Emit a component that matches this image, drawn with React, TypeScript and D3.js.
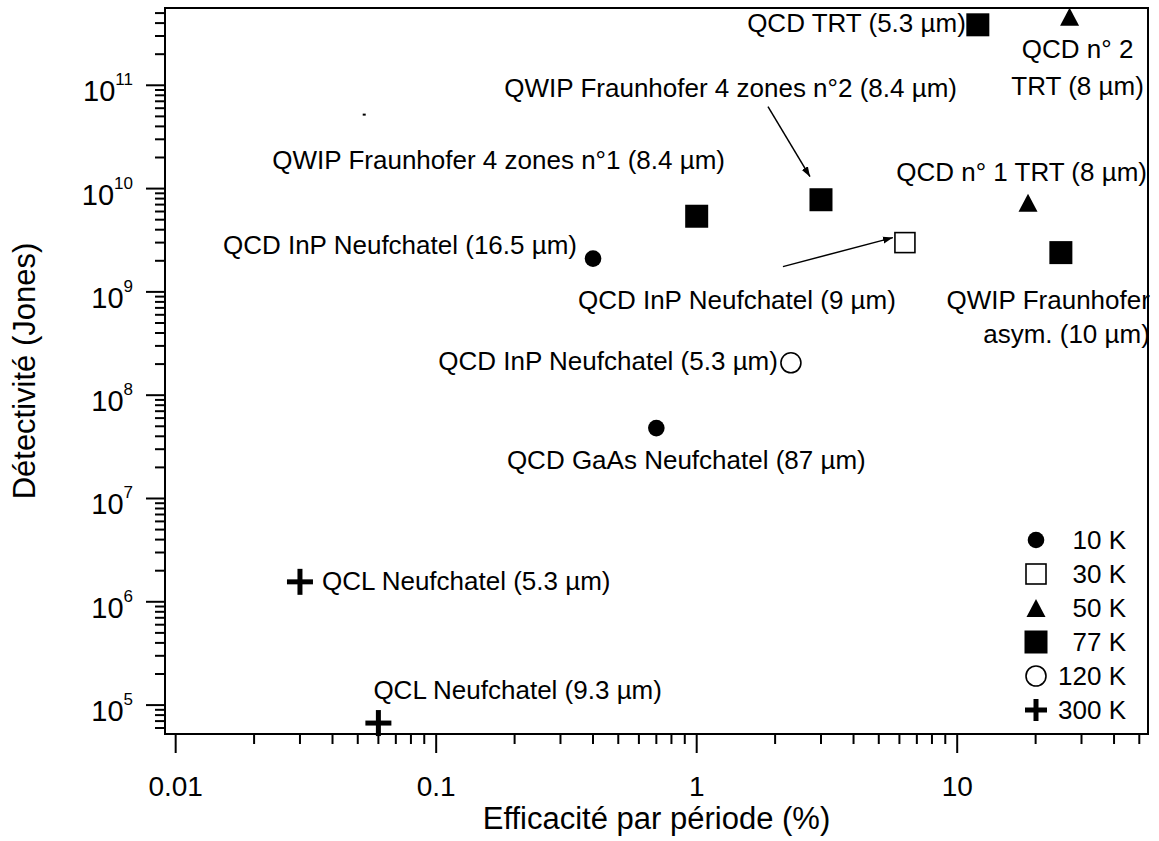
import React from 'react';
import * as d3 from 'd3';

// values
const efficiency = [0.4, 0.7, 6.3, 27, 18.7, 12, 1, 3, 25, 2.3, 0.03, 0.06];
const detectivity = [2.1e9, 4.8e7, 3.0e9, 4.6e11, 7.3e9, 3.85e11, 5.4e9, 7.8e9, 2.4e9, 2.06e8, 1.56e6, 6.7e4];
const temperature = ['10 K', '10 K', '30 K', '50 K', '50 K', '77 K', '77 K', '77 K', '77 K', '120 K', '300 K', '300 K'];
const deviceNames = [
  ['QCD InP Neufchatel (16.5 µm)'],
  ['QCD GaAs Neufchatel (87 µm)'],
  ['QCD InP Neufchatel (9 µm)'],
  ['QCD n° 2', 'TRT (8 µm)'],
  ['QCD n° 1 TRT (8 µm)'],
  ['QCD TRT (5.3 µm)'],
  ['QWIP Fraunhofer 4 zones n°1 (8.4 µm)'],
  ['QWIP Fraunhofer 4 zones n°2 (8.4 µm)'],
  ['QWIP Fraunhofer', 'asym. (10 µm)'],
  ['QCD InP Neufchatel (5.3 µm)'],
  ['QCL Neufchatel (5.3 µm)'],
  ['QCL Neufchatel (9.3 µm)'],
];
const strayX = [0.0527];
const strayY = [5.2e10];
const legendTemps = ['10 K', '30 K', '50 K', '77 K', '120 K', '300 K'];
const xTickValues = [0.01, 0.1, 1, 10];
const xTickLabels = ['0.01', '0.1', '1', '10'];
const yExponents = [5, 6, 7, 8, 9, 10, 11];

const FONT = '"Liberation Sans", Arial, sans-serif';

// label placement relative to the point: dx, dy (baseline), anchor, line gap
const labelLayout: [number, number, string, number][] = [
  [-16, -5, 'end', 0],
  [30, 41, 'middle', 0],
  [-168, 66, 'middle', 0],
  [8, 41, 'middle', 37],
  [119, -22, 'end', 0],
  [-12, 7, 'end', 0],
  [-198, -47, 'middle', 0],
  [136, -103, 'end', 0],
  [89, 56, 'end', 34],
  [-13, 7, 'end', 0],
  [22, 8, 'start', 0],
  [-5, -24, 'start', 0],
];

// arrows: [pointIndex, startDx, startDy, endDx, endDy]
const arrowLayout: [number, number, number, number, number][] = [
  [7, -53, -93, -11, -23],
  [2, -122, 24, -12, -5],
];

const Marker: React.FC<{ kind: string; x: number; y: number; small?: boolean }> = ({ kind, x, y, small }) => {
  switch (kind) {
    case '10 K':
      return <circle cx={x} cy={y} r={8.3} fill="#000" />;
    case '30 K':
      return <rect x={x - 10} y={y - 10} width={20} height={20} fill="#fff" stroke="#000" strokeWidth={1.6} />;
    case '50 K': {
      const w = 19, h = 18;
      return <path d={`M${x},${y - h / 2}L${x + w / 2},${y + h / 2}L${x - w / 2},${y + h / 2}Z`} fill="#000" />;
    }
    case '77 K':
      return <rect x={x - 11.5} y={y - 11.5} width={23} height={23} fill="#000" />;
    case '120 K':
      return <circle cx={x} cy={y} r={10} fill="#fff" stroke="#000" strokeWidth={1.6} />;
    case '300 K': {
      const s = small ? 11 : 13;
      return (
        <g stroke="#000" strokeWidth={5}>
          <line x1={x - s} x2={x + s} y1={y} y2={y} />
          <line x1={x} x2={x} y1={y - s} y2={y + s} />
        </g>
      );
    }
    default:
      return null;
  }
};

export default function App() {
  const width = 1159;
  const height = 841;
  const left = 165, right = 1148, top = 8, bottom = 734;

  const x = d3.scaleLog().domain([0.0091, 54]).range([left, right]);
  const y = d3.scaleLog().domain([5.25e4, 5.6e11]).range([bottom, top]);

  const xMinor: number[] = [];
  for (let e = -3; e <= 2; e++) {
    for (let k = 2; k <= 9; k++) {
      const v = k * Math.pow(10, e);
      if (v > x.domain()[0] && v < x.domain()[1]) xMinor.push(v);
    }
  }
  const yMinor: number[] = [];
  for (let e = 4; e <= 11; e++) {
    for (let k = 2; k <= 9; k++) {
      const v = k * Math.pow(10, e);
      if (v > y.domain()[0] && v < y.domain()[1]) yMinor.push(v);
    }
  }

  return (
    <svg width={width} height={height} style={{ position: 'absolute', left: 0, top: 0, background: '#fff' }} fontFamily={FONT}>
      <defs>
        <marker id="arrowhead" viewBox="0 0 10 10" refX="10" refY="5" markerWidth="10" markerHeight="10" orient="auto" markerUnits="userSpaceOnUse">
          <path d="M0,1.5L10,5L0,8.5Z" fill="#000" />
        </marker>
      </defs>

      {/* ticks */}
      {xTickValues.map((v) => (
        <line key={'xt' + v} x1={x(v)} x2={x(v)} y1={bottom} y2={bottom + 19} stroke="#000" strokeWidth={2} />
      ))}
      {xMinor.map((v) => (
        <line key={'xm' + v} x1={x(v)} x2={x(v)} y1={bottom} y2={bottom + 10} stroke="#000" strokeWidth={2} />
      ))}
      {yExponents.map((e) => (
        <line key={'yt' + e} x1={left - 19} x2={left} y1={y(Math.pow(10, e))} y2={y(Math.pow(10, e))} stroke="#000" strokeWidth={2} />
      ))}
      {yMinor.map((v) => (
        <line key={'ym' + v} x1={left - 10} x2={left} y1={y(v)} y2={y(v)} stroke="#000" strokeWidth={2} />
      ))}

      {/* tick labels */}
      {xTickValues.map((v, i) => (
        <text key={'xl' + v} x={x(v)} y={796} textAnchor="middle" fontSize={28}>
          {xTickLabels[i]}
        </text>
      ))}
      {yExponents.map((e) => (
        <text key={'yl' + e} x={133} y={y(Math.pow(10, e)) + 16} textAnchor="end" fontSize={29}>
          10<tspan fontSize={17} dy={-16}>{e}</tspan>
        </text>
      ))}

      {/* axis titles */}
      <text x={(left + right) / 2} y={829} textAnchor="middle" fontSize={31}>
        Efficacité par période (%)
      </text>
      <text transform={`translate(35,${(top + bottom) / 2}) rotate(-90)`} textAnchor="middle" fontSize={31}>
        Détectivité (Jones)
      </text>

      {/* frame */}
      <rect x={left} y={top} width={right - left} height={bottom - top} fill="none" stroke="#000" strokeWidth={2} />

      {/* arrows */}
      {arrowLayout.map(([i, sx, sy, ex, ey]) => {
        const px = x(efficiency[i]);
        const py = y(detectivity[i]);
        return (
          <line key={'ar' + i} x1={px + sx} y1={py + sy} x2={px + ex} y2={py + ey} stroke="#000" strokeWidth={1.5} markerEnd="url(#arrowhead)" />
        );
      })}

      {/* stray point */}
      {strayX.map((v, i) => (
        <rect key={'st' + i} x={x(v) - 1} y={y(strayY[i]) - 1} width={3} height={2} fill="#000" />
      ))}

      {/* points */}
      {efficiency.map((v, i) => (
        <Marker key={'pt' + i} kind={temperature[i]} x={x(v)} y={y(detectivity[i])} />
      ))}

      {/* labels */}
      {deviceNames.map((lines, i) => {
        const [dx, dy, anchor, gap] = labelLayout[i];
        const px = x(efficiency[i]);
        const py = y(detectivity[i]);
        return lines.map((t, j) => (
          <text key={'lb' + i + '-' + j} x={px + dx} y={py + dy + j * gap} textAnchor={anchor as any} fontSize={26}>
            {t}
          </text>
        ));
      })}

      {/* legend */}
      {legendTemps.map((t, i) => {
        const ly = 540 + i * 34;
        return (
          <g key={'lg' + t}>
            <Marker kind={t} x={1036} y={ly} small />
            <text x={1126} y={ly + 9} textAnchor="end" fontSize={26}>
              {t}
            </text>
          </g>
        );
      })}
    </svg>
  );
}
